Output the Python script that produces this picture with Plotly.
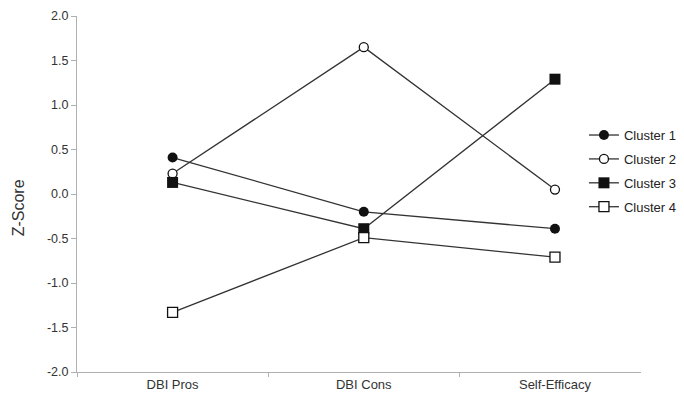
import plotly.graph_objects as go

categories = ["DBI Pros", "DBI Cons", "Self-Efficacy"]
cluster1 = [0.41, -0.20, -0.39]
cluster2 = [0.23, 1.65, 0.05]
cluster3 = [0.13, -0.39, 1.29]
cluster4 = [-1.33, -0.49, -0.71]
series_names = ["Cluster 1", "Cluster 2", "Cluster 3", "Cluster 4"]
y_ticks = [-2.0, -1.5, -1.0, -0.5, 0.0, 0.5, 1.0, 1.5, 2.0]
y_tick_labels = ["-2.0", "-1.5", "-1.0", "-0.5", "0.0", "0.5", "1.0", "1.5", "2.0"]

styles = [
    dict(symbol="circle", color="#111111", size=10),
    dict(symbol="circle-open", color="#111111", size=9),
    dict(symbol="square", color="#111111", size=11),
    dict(symbol="square-open", color="#111111", size=10),
]

fig = go.Figure()
for name, vals, st in zip(series_names, [cluster1, cluster2, cluster3, cluster4], styles):
    marker = dict(symbol=st["symbol"], size=st["size"], color=st["color"])
    if "open" in st["symbol"]:
        marker = dict(symbol=st["symbol"].replace("-open", ""), size=st["size"],
                      color="white", line=dict(color="#111111", width=1.3))
    fig.add_trace(go.Scatter(
        x=categories, y=vals, name=name, mode="lines+markers",
        line=dict(color="#333333", width=1.3),
        marker=marker, legendgroup=name,
    ))

font_family = "Arial, 'Liberation Sans', sans-serif"
fig.update_layout(
    width=676, height=396,
    margin=dict(l=69, r=43, t=8, b=32, autoexpand=False),
    paper_bgcolor="white", plot_bgcolor="white",
    font=dict(family=font_family, color="#333333", size=12),
    showlegend=True,
    legend=dict(xref="container", yref="container", x=0.852, y=0.717,
                xanchor="left", yanchor="top",
                font=dict(size=13, color="#222222"),
                bgcolor="rgba(0,0,0,0)", tracegroupgap=4),
    xaxis=dict(type="category", range=[-0.5, 2.45], showline=True,
               linecolor="#b0b0b0", linewidth=1, ticks="outside",
               tickson="boundaries", ticklen=4, tickcolor="#b0b0b0",
               showgrid=False, zeroline=False,
               tickfont=dict(size=13, color="#333333")),
    yaxis=dict(range=[-2.0, 2.0], tickvals=y_ticks, ticktext=y_tick_labels,
               showline=True, linecolor="#b0b0b0", linewidth=1,
               ticks="outside", ticklen=5, tickcolor="#b0b0b0",
               showgrid=False, zeroline=False,
               tickfont=dict(size=12.5, color="#333333")),
    annotations=[dict(text="Z-Score", textangle=-90, xref="paper", yref="paper",
                      x=-0.123, y=0.46, showarrow=False,
                      font=dict(size=16, color="#333333"))],
)

fig.write_html("out.html")
